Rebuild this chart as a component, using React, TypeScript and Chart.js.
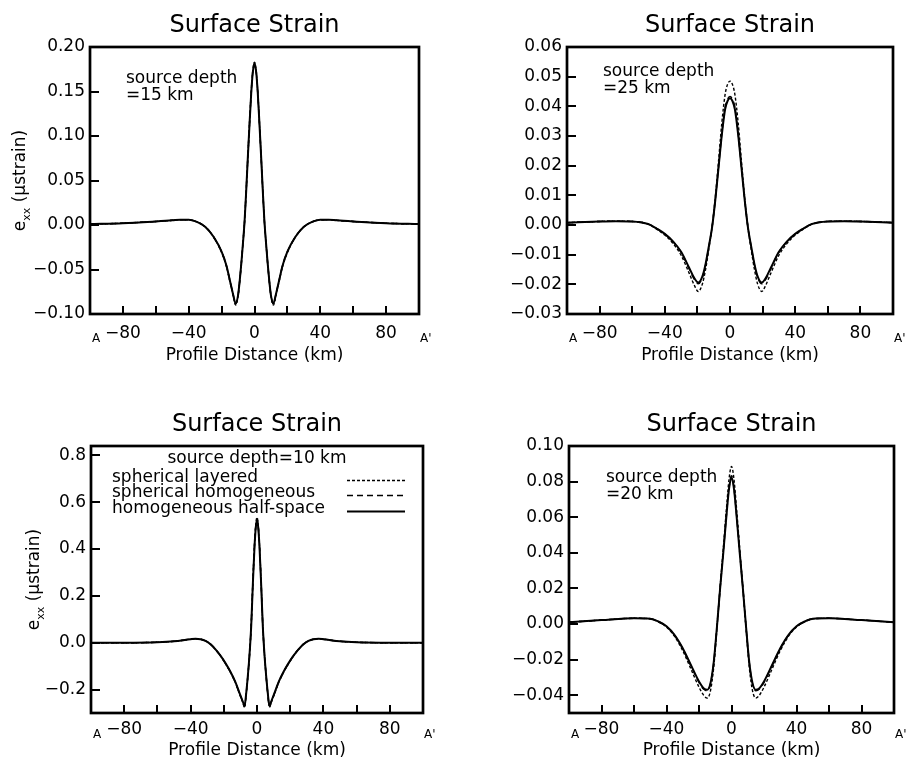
import React, { useEffect, useRef } from "react";
import { Chart, registerables } from "chart.js";

Chart.register(...registerables);

const FONT = "'DejaVu Sans', sans-serif";

// ---------- shared axis data ----------
const xTicks = [-100, -80, -60, -40, -20, 0, 20, 40, 60, 80, 100];
const xTickLabels = ["", "\u221280", "", "\u221240", "", "0", "", "40", "", "80", ""];
const seriesNames = ["homogeneous half-space", "spherical homogeneous", "spherical layered"];

// ---------- source depth = 15 km ----------
const x15 = [-100, -80, -60, -50, -45, -40, -35, -30, -25, -20, -17, -15, -13, -11.5, -10, -9, -8, -7, -6, -5, -4, -3, -2, -1, 0, 1, 2, 3, 4, 5, 6, 7, 8, 9, 10, 11.5, 13, 15, 17, 20, 25, 30, 35, 40, 45, 50, 60, 80, 100];
const halfSpace15 = [0.001, 0.002, 0.004, 0.0052, 0.006, 0.0058, 0.0035, -0.002, -0.013, -0.030, -0.046, -0.062, -0.078, -0.088, -0.079, -0.063, -0.043, -0.020, 0.005, 0.040, 0.078, 0.114, 0.148, 0.172, 0.181, 0.172, 0.148, 0.114, 0.078, 0.040, 0.005, -0.020, -0.043, -0.063, -0.079, -0.088, -0.078, -0.062, -0.046, -0.030, -0.013, -0.002, 0.0035, 0.0058, 0.006, 0.0052, 0.004, 0.002, 0.001];
const sphHomog15 = [0.001, 0.002, 0.004, 0.0052, 0.006, 0.0058, 0.0035, -0.002, -0.013, -0.030, -0.046, -0.062, -0.078, -0.089, -0.079, -0.063, -0.043, -0.020, 0.005, 0.040, 0.078, 0.114, 0.148, 0.173, 0.182, 0.173, 0.148, 0.114, 0.078, 0.040, 0.005, -0.020, -0.043, -0.063, -0.079, -0.089, -0.078, -0.062, -0.046, -0.030, -0.013, -0.002, 0.0035, 0.0058, 0.006, 0.0052, 0.004, 0.002, 0.001];
const sphLayered15 = [0.001, 0.002, 0.004, 0.0052, 0.006, 0.0058, 0.0035, -0.002, -0.013, -0.031, -0.047, -0.063, -0.079, -0.090, -0.080, -0.063, -0.043, -0.020, 0.005, 0.040, 0.078, 0.115, 0.149, 0.174, 0.183, 0.174, 0.149, 0.115, 0.078, 0.040, 0.005, -0.020, -0.043, -0.063, -0.080, -0.090, -0.079, -0.063, -0.047, -0.031, -0.013, -0.002, 0.0035, 0.0058, 0.006, 0.0052, 0.004, 0.002, 0.001];
const yTicks15 = [-0.1, -0.05, 0, 0.05, 0.1, 0.15, 0.2];

// ---------- source depth = 25 km ----------
const x25 = [-100, -80, -70, -60, -50, -45, -40, -35, -30, -25, -22, -19.5, -17, -15, -13, -11, -9, -7, -5, -3, -1.5, 0, 1.5, 3, 5, 7, 9, 11, 13, 15, 17, 19.5, 22, 25, 30, 35, 40, 45, 50, 60, 70, 80, 100];
const halfSpace25 = [0.0008, 0.0012, 0.0013, 0.0012, 0.0003, -0.0012, -0.0030, -0.0055, -0.0090, -0.0145, -0.0178, -0.0194, -0.0174, -0.0132, -0.0072, -0.0008, 0.0085, 0.0195, 0.0305, 0.0390, 0.0418, 0.0427, 0.0418, 0.0390, 0.0305, 0.0195, 0.0085, -0.0008, -0.0072, -0.0132, -0.0174, -0.0194, -0.0178, -0.0145, -0.0090, -0.0055, -0.0030, -0.0012, 0.0003, 0.0012, 0.0013, 0.0012, 0.0008];
const sphHomog25 = [0.0008, 0.0012, 0.0013, 0.0012, 0.0003, -0.0012, -0.0031, -0.0056, -0.0092, -0.0148, -0.0182, -0.0198, -0.0178, -0.0135, -0.0074, -0.0008, 0.0087, 0.0198, 0.0310, 0.0396, 0.0424, 0.0433, 0.0424, 0.0396, 0.0310, 0.0198, 0.0087, -0.0008, -0.0074, -0.0135, -0.0178, -0.0198, -0.0182, -0.0148, -0.0092, -0.0056, -0.0031, -0.0012, 0.0003, 0.0012, 0.0013, 0.0012, 0.0008];
const sphLayered25 = [0.0008, 0.0012, 0.0013, 0.0012, 0.0002, -0.0014, -0.0034, -0.0062, -0.0102, -0.0163, -0.0202, -0.0224, -0.0200, -0.0150, -0.0082, -0.0008, 0.0095, 0.0218, 0.0345, 0.0440, 0.0474, 0.0485, 0.0474, 0.0440, 0.0345, 0.0218, 0.0095, -0.0008, -0.0082, -0.0150, -0.0200, -0.0224, -0.0202, -0.0163, -0.0102, -0.0062, -0.0034, -0.0014, 0.0002, 0.0012, 0.0013, 0.0012, 0.0008];
const yTicks25 = [-0.03, -0.02, -0.01, 0, 0.01, 0.02, 0.03, 0.04, 0.05, 0.06];

// ---------- source depth = 10 km ----------
const x10 = [-100, -80, -60, -50, -40, -37, -34, -31, -28, -25, -22, -19, -16, -13, -10.5, -8.5, -7.5, -6.5, -5.5, -4.5, -3.5, -2.5, -1.5, -0.7, 0, 0.7, 1.5, 2.5, 3.5, 4.5, 5.5, 6.5, 7.5, 8.5, 10.5, 13, 16, 19, 22, 25, 28, 31, 34, 37, 40, 50, 60, 80, 100];
const halfSpace10 = [0.000, 0.000, 0.002, 0.006, 0.015, 0.017, 0.015, 0.008, -0.006, -0.028, -0.055, -0.087, -0.124, -0.168, -0.215, -0.252, -0.270, -0.215, -0.140, -0.050, 0.070, 0.250, 0.410, 0.495, 0.525, 0.495, 0.410, 0.250, 0.070, -0.050, -0.140, -0.215, -0.270, -0.252, -0.215, -0.168, -0.124, -0.087, -0.055, -0.028, -0.006, 0.008, 0.015, 0.017, 0.015, 0.006, 0.002, 0.000, 0.000];
const sphHomog10 = [0.000, 0.000, 0.002, 0.006, 0.015, 0.017, 0.015, 0.008, -0.006, -0.028, -0.055, -0.088, -0.125, -0.170, -0.217, -0.255, -0.273, -0.217, -0.141, -0.050, 0.071, 0.253, 0.414, 0.500, 0.530, 0.500, 0.414, 0.253, 0.071, -0.050, -0.141, -0.217, -0.273, -0.255, -0.217, -0.170, -0.125, -0.088, -0.055, -0.028, -0.006, 0.008, 0.015, 0.017, 0.015, 0.006, 0.002, 0.000, 0.000];
const sphLayered10 = [0.000, 0.000, 0.002, 0.006, 0.015, 0.017, 0.015, 0.008, -0.006, -0.029, -0.056, -0.089, -0.126, -0.171, -0.219, -0.257, -0.276, -0.219, -0.142, -0.051, 0.072, 0.256, 0.418, 0.505, 0.535, 0.505, 0.418, 0.256, 0.072, -0.051, -0.142, -0.219, -0.276, -0.257, -0.219, -0.171, -0.126, -0.089, -0.056, -0.029, -0.006, 0.008, 0.015, 0.017, 0.015, 0.006, 0.002, 0.000, 0.000];
const yTicks10 = [-0.2, 0, 0.2, 0.4, 0.6, 0.8];

// ---------- source depth = 20 km ----------
const x20 = [-100, -80, -60, -50, -45, -40, -35, -30, -25, -20, -17, -15, -13, -11, -9, -7, -5, -3, -1.5, 0, 1.5, 3, 5, 7, 9, 11, 13, 15, 17, 20, 25, 30, 35, 40, 45, 50, 60, 80, 100];
const halfSpace20 = [0.0010, 0.0022, 0.0032, 0.0030, 0.0014, -0.0013, -0.0062, -0.0136, -0.0230, -0.0323, -0.0362, -0.0370, -0.0335, -0.0220, -0.0020, 0.0200, 0.0405, 0.0620, 0.0760, 0.0826, 0.0760, 0.0620, 0.0405, 0.0200, -0.0020, -0.0220, -0.0335, -0.0370, -0.0362, -0.0323, -0.0230, -0.0136, -0.0062, -0.0013, 0.0014, 0.0030, 0.0032, 0.0022, 0.0010];
const sphHomog20 = [0.0010, 0.0022, 0.0032, 0.0030, 0.0014, -0.0014, -0.0064, -0.0139, -0.0234, -0.0328, -0.0367, -0.0375, -0.0339, -0.0223, -0.0021, 0.0202, 0.0410, 0.0626, 0.0767, 0.0833, 0.0767, 0.0626, 0.0410, 0.0202, -0.0021, -0.0223, -0.0339, -0.0375, -0.0367, -0.0328, -0.0234, -0.0139, -0.0064, -0.0014, 0.0014, 0.0030, 0.0032, 0.0022, 0.0010];
const sphLayered20 = [0.0010, 0.0022, 0.0032, 0.0029, 0.0012, -0.0017, -0.0070, -0.0150, -0.0252, -0.0355, -0.0402, -0.0416, -0.0378, -0.0248, -0.0030, 0.0205, 0.0430, 0.0660, 0.0815, 0.0885, 0.0815, 0.0660, 0.0430, 0.0205, -0.0030, -0.0248, -0.0378, -0.0416, -0.0402, -0.0355, -0.0252, -0.0150, -0.0070, -0.0017, 0.0012, 0.0029, 0.0032, 0.0022, 0.0010];
const yTicks20 = [-0.04, -0.02, 0, 0.02, 0.04, 0.06, 0.08, 0.1];

// ---------- panel layout (positions / styles only) ----------
type Note = { text: string; dx: number; dy: number; center?: boolean };
type PanelCfg = {
  left: number; top: number; w: number; h: number;
  padTop: number; padRight: number; yWidth: number; xHeight: number;
  xPad: number; xTitlePad: number; aDy: number;
  yMin: number; yMax: number; yTicks: number[]; yDec: number;
  yTitleOff: number | null;
  x: number[]; series: number[][];
  notes: Note[]; legend: boolean;
};

const panels: PanelCfg[] = [
  {
    left: 0, top: 0, w: 455, h: 380, padTop: 47, padRight: 36, yWidth: 90, xHeight: 66,
    xPad: 9, xTitlePad: 14, aDy: 28, yMin: -0.1, yMax: 0.2, yTicks: yTicks15, yDec: 2, yTitleOff: 70,
    x: x15, series: [halfSpace15, sphHomog15, sphLayered15],
    notes: [{ text: "source depth", dx: 36, dy: 36 }, { text: "=15 km", dx: 36, dy: 53 }], legend: false,
  },
  {
    left: 455, top: 0, w: 456, h: 380, padTop: 47, padRight: 18, yWidth: 112, xHeight: 66,
    xPad: 9, xTitlePad: 14, aDy: 28, yMin: -0.03, yMax: 0.06, yTicks: yTicks25, yDec: 2, yTitleOff: null,
    x: x25, series: [halfSpace25, sphHomog25, sphLayered25],
    notes: [{ text: "source depth", dx: 36, dy: 29 }, { text: "=25 km", dx: 36, dy: 46 }], legend: false,
  },
  {
    left: 0, top: 380, w: 455, h: 381, padTop: 66, padRight: 32, yWidth: 91, xHeight: 48,
    xPad: 6, xTitlePad: 0, aDy: 25, yMin: -0.3, yMax: 0.84, yTicks: yTicks10, yDec: 1, yTitleOff: 57,
    x: x10, series: [halfSpace10, sphHomog10, sphLayered10],
    notes: [{ text: "source depth=10 km", dx: 0, dy: 17, center: true }], legend: true,
  },
  {
    left: 455, top: 380, w: 456, h: 381, padTop: 66, padRight: 17, yWidth: 114, xHeight: 48,
    xPad: 6, xTitlePad: 0, aDy: 25, yMin: -0.05, yMax: 0.1, yTicks: yTicks20, yDec: 2, yTitleOff: null,
    x: x20, series: [halfSpace20, sphHomog20, sphLayered20],
    notes: [{ text: "source depth", dx: 37, dy: 36 }, { text: "=20 km", dx: 37, dy: 53 }], legend: false,
  },
];

const lineStyles = [
  { borderWidth: 2, borderDash: [] as number[] },
  { borderWidth: 1.5, borderDash: [6, 4] },
  { borderWidth: 1.4, borderDash: [3, 2] },
];

const fmt = (v: number, d: number) => {
  const s = Math.abs(v).toFixed(d);
  return (v < -1e-9 ? "\u2212" : "") + s;
};

function pixelOf(scale: any, v: number, lo: number, hi: number, isX: boolean) {
  let px = Number(scale.getPixelForValue(v));
  if (!isFinite(px)) {
    const f = (v - scale.min) / (scale.max - scale.min);
    px = isX ? lo + f * (hi - lo) : hi - f * (hi - lo);
  }
  return px;
}

function makeDecor(p: PanelCfg) {
  return {
    id: "decor",
    afterDraw(chart: any) {
      const ctx: CanvasRenderingContext2D = chart.ctx;
      const a = chart.chartArea;
      const xs = chart.scales.x;
      const ys = chart.scales.y;
      ctx.save();
      ctx.globalAlpha = 1;
      ctx.globalCompositeOperation = "source-over";
      ctx.strokeStyle = "#000000";
      ctx.fillStyle = "#000000";
      ctx.setLineDash([]);

      // frame
      ctx.lineWidth = 2.7;
      ctx.strokeRect(a.left, a.top, a.right - a.left, a.bottom - a.top);

      // inward tick marks (positions from the scales)
      xTicks.forEach((v) => {
        const px = pixelOf(xs, v, a.left, a.right, true);
        if (px <= a.left + 2 || px >= a.right - 2) return;
        ctx.fillRect(Math.round(px) - 1, a.bottom - 8, 2, 8);
      });
      p.yTicks.forEach((v) => {
        const py = pixelOf(ys, v, a.top, a.bottom, false);
        if (py <= a.top + 2 || py >= a.bottom - 2) return;
        ctx.fillRect(a.left, Math.round(py) - 1, 9, 2);
      });

      // title
      ctx.font = `24px ${FONT}`;
      ctx.textAlign = "center";
      ctx.textBaseline = "alphabetic";
      ctx.fillText("Surface Strain", (a.left + a.right) / 2, a.top - 15.5);

      // A / A'
      ctx.font = `12px ${FONT}`;
      ctx.textAlign = "left";
      ctx.fillText("A", a.left + 2, a.bottom + p.aDy);
      ctx.fillText("A'", a.right + 1, a.bottom + p.aDy);

      // annotations
      ctx.font = `17px ${FONT}`;
      p.notes.forEach((n) => {
        if (n.center) {
          ctx.textAlign = "center";
          ctx.fillText(n.text, (a.left + a.right) / 2, a.top + n.dy);
        } else {
          ctx.textAlign = "left";
          ctx.fillText(n.text, a.left + n.dx, a.top + n.dy);
        }
      });

      // legend
      if (p.legend) {
        const order = [2, 1, 0];
        const baselines = [36, 51, 67];
        order.forEach((di, i) => {
          const ds = chart.data.datasets[di];
          const yb = a.top + baselines[i];
          ctx.textAlign = "left";
          ctx.font = `17px ${FONT}`;
          ctx.fillText(ds.label, a.left + 21, yb);
          ctx.beginPath();
          ctx.lineWidth = ds.borderWidth;
          ctx.setLineDash(ds.borderDash || []);
          ctx.moveTo(a.left + 256, yb - 1.5);
          ctx.lineTo(a.left + 314, yb - 1.5);
          ctx.stroke();
        });
        ctx.setLineDash([]);
      }

      // y title with subscript
      if (p.yTitleOff !== null) {
        const cx = a.left - p.yTitleOff;
        const cy = (a.top + a.bottom) / 2;
        ctx.translate(cx, cy);
        ctx.rotate(-Math.PI / 2);
        const big = `17px ${FONT}`;
        const small = `11px ${FONT}`;
        const rest = " (\u03bcstrain)";
        ctx.font = big;
        const we = ctx.measureText("e").width;
        const wr = ctx.measureText(rest).width;
        ctx.font = small;
        const wx = ctx.measureText("xx").width;
        let x = -(we + wx + wr) / 2;
        ctx.textAlign = "left";
        ctx.font = big;
        ctx.fillText("e", x, 5);
        x += we;
        ctx.font = small;
        ctx.fillText("xx", x, 10);
        x += wx;
        ctx.font = big;
        ctx.fillText(rest, x, 5);
      }
      ctx.restore();
    },
  };
}

function Panel({ p }: { p: PanelCfg }) {
  const ref = useRef<HTMLCanvasElement>(null);
  useEffect(() => {
    const canvas = ref.current!;
    const datasets = p.series.map((ys, i) => ({
      label: seriesNames[i],
      data: p.x.map((x, j) => ({ x, y: ys[j] })),
      borderColor: "#000",
      backgroundColor: "#000",
      borderWidth: lineStyles[i].borderWidth,
      borderDash: lineStyles[i].borderDash,
      pointRadius: 0,
      fill: false,
      cubicInterpolationMode: "monotone" as const,
    }));
    const chart = new Chart(canvas, {
      type: "line",
      data: { datasets },
      options: {
        animation: false,
        responsive: false,
        devicePixelRatio: 1,
        events: [],
        layout: { padding: { top: p.padTop, right: p.padRight, left: 0, bottom: 0 } },
        plugins: { legend: { display: false }, title: { display: false }, tooltip: { enabled: false } },
        scales: {
          x: {
            type: "linear",
            min: -100,
            max: 100,
            afterBuildTicks: (s: any) => {
              s.ticks = xTicks.map((v) => ({ value: v }));
            },
            afterFit: (s: any) => {
              s.height = p.xHeight;
            },
            grid: { display: true, drawOnChartArea: false, drawTicks: false, lineWidth: 0 },
            border: { display: false },
            ticks: {
              autoSkip: false,
              maxRotation: 0,
              minRotation: 0,
              padding: p.xPad,
              color: "#000",
              font: { family: FONT, size: 17 },
              callback: (_v: any, i: number) => xTickLabels[i],
            },
            title: {
              display: true,
              text: "Profile Distance (km)",
              color: "#000",
              font: { family: FONT, size: 17 },
              padding: { top: 0, bottom: p.xTitlePad },
            },
          },
          y: {
            type: "linear",
            min: p.yMin,
            max: p.yMax,
            afterBuildTicks: (s: any) => {
              s.ticks = p.yTicks.map((v) => ({ value: v }));
            },
            afterFit: (s: any) => {
              s.width = p.yWidth;
            },
            grid: { display: true, drawOnChartArea: false, drawTicks: false, lineWidth: 0 },
            border: { display: false },
            ticks: {
              autoSkip: false,
              padding: 5,
              color: "#000",
              font: { family: FONT, size: 17 },
              callback: (v: any) => fmt(Number(v), p.yDec),
            },
          },
        },
      },
      plugins: [makeDecor(p)],
    } as any);
    return () => chart.destroy();
  }, [p]);
  return (
    <canvas
      ref={ref}
      width={p.w}
      height={p.h}
      style={{ position: "absolute", left: p.left, top: p.top, width: p.w, height: p.h }}
    />
  );
}

export default function App() {
  return (
    <div style={{ position: "absolute", left: 0, top: 0, width: 911, height: 761, background: "#fff", overflow: "hidden" }}>
      {panels.map((p, i) => (
        <Panel key={i} p={p} />
      ))}
    </div>
  );
}
